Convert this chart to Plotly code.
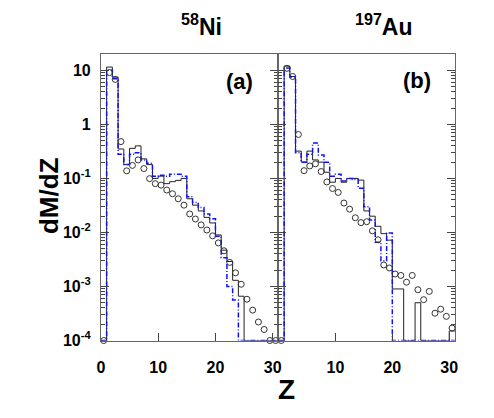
import plotly.graph_objects as go

# ---- data (bins [Z, Z+1], Z = 0..30) ----
bin_edges = list(range(0, 32))
circle_z = [z + 0.5 for z in range(0, 31)]

ni_black = [0, 11.5, 7.5, 0.35, 0.18, 0.36, 0.40, 0.23, 0.18, 0.10, 0.11, 0.08, 0.087, 0.092, 0.10,
            0.042, 0.032, 0.025, 0.019, 0.015, 0.009, 0.0047, 0.0029, 0.0013, 0.00066,
            0, 0, 0, 0, 0, 0]
ni_blue = [0, 10.0, 7.0, 0.28, 0.18, 0.28, 0.30, 0.22, 0.19, 0.11, 0.115, 0.11, 0.12, 0.12, 0.11,
           0.046, 0.036, 0.029, 0.022, 0.018, 0.0085, 0.0034, 0.0010, 0.00056,
           0, 0, 0, 0, 0, 0, 0]
ni_data = [0, 9.1, 6.8, 0.48, 0.138, 0.174, 0.22, 0.152, 0.099, 0.080, 0.075, 0.061, 0.052, 0.042,
           0.032, 0.022, 0.0177, 0.0138, 0.0111, 0.00865, 0.0064, 0.00458, 0.00279, 0.00179,
           0.0011, 0.00058, 0.000365, 0.00022, 0.00016, 0, 0]

au_black = [0, 12.0, 7.7, 0.32, 0.20, 0.32, 0.22, 0.20, 0.13, 0.085, 0.10, 0.085, 0.10, 0.10, 0.093,
            0.025, 0.020, 0.013, 0.0095, 0.0072, 0.0009, 0.0009, 0, 0, 0.0005,
            0, 0, 0, 0, 0, 0.00015]
au_blue = [0, 11.0, 7.5, 0.30, 0.20, 0.28, 0.45, 0.27, 0.20, 0.11, 0.12, 0.09, 0.10, 0.095, 0.066,
           0.030, 0.017, 0.0066, 0.0030, 0.0098, 0, 0, 0, 0, 0, 0, 0, 0, 0, 0, 0]
au_data = [0, 10.9, 7.7, 0.65, 0.139, 0.17, 0.186, 0.134, 0.086, 0.065, 0.055, 0.035, 0.027, 0.0187,
           0.0152, 0.0158, 0.0107, 0.0073, 0.0025, 0.0022, 0.0017, 0.0016, 0.0012, 0.0016,
           0.00087, 0.00057, 0.00081, 0.00032, 0.00038, 0.00028, 0.00017]

y_tickvals = [10, 1, 0.1, 0.01, 0.001, 0.0001]
y_ticktext = ["10", "1", "10<sup>-1</sup>", "10<sup>-2</sup>", "10<sup>-3</sup>", "10<sup>-4</sup>"]

FLOOR = 1e-4


def floored(vals):
    return [v if v > 0 else FLOOR for v in vals]


def step_y(vals):
    v = floored(vals)
    return v + [v[-1]]


W, H = 494, 418
xa = [98.3 / W, 278.4 / W]
xb = [278.4 / W, 457.4 / W]
yd = [1 - 348 / H, 1 - 55 / H]

fig = go.Figure()

for xr, yr, blk, blu, dat in [("x", "y", ni_black, ni_blue, ni_data),
                              ("x2", "y2", au_black, au_blue, au_data)]:
    fig.add_trace(go.Scatter(x=bin_edges, y=step_y(blk), mode="lines", line_shape="hv",
                             line=dict(color="#222222", width=1), xaxis=xr, yaxis=yr,
                             showlegend=False))
    fig.add_trace(go.Scatter(x=bin_edges, y=step_y(blu), mode="lines", line_shape="hv",
                             line=dict(color="#1010ff", width=1.5, dash="5px,2px,1px,2px"),
                             xaxis=xr, yaxis=yr, showlegend=False))
    fig.add_trace(go.Scatter(x=circle_z, y=floored(dat), mode="markers",
                             marker=dict(symbol="circle-open", size=6, color="#333333",
                                         line=dict(width=1, color="#333333")),
                             xaxis=xr, yaxis=yr, showlegend=False, cliponaxis=False))

tickfont = dict(family="Liberation Sans, Arial", size=16, color="black", weight="bold")
axis_common = dict(showgrid=False, zeroline=False, linecolor="#666666", linewidth=1,
                   ticks="inside", tickcolor="#444444")

fig.update_layout(
    width=W, height=H, margin=dict(l=0, r=0, t=0, b=0),
    plot_bgcolor="white", paper_bgcolor="white",
    xaxis=dict(domain=xa, range=[0, 31], tickvals=[0, 10, 20, 30], ticklen=8, mirror=True,
               tickfont=tickfont, anchor="y", ticklabelstandoff=12, **axis_common),
    xaxis2=dict(domain=xb, range=[0, 31], tickvals=[10, 20, 30], ticklen=8, mirror=True,
                tickfont=tickfont, anchor="y2", ticklabelstandoff=12, **axis_common),
    yaxis=dict(domain=yd, type="log", range=[-4, 1.306], tickvals=y_tickvals, ticktext=y_ticktext,
               ticklen=8, mirror="allticks", tickfont=tickfont, anchor="x",
               ticklabelstandoff=6,
               minor=dict(ticks="inside", ticklen=4, tickcolor="#444444", dtick="D1"),
               **axis_common),
    yaxis2=dict(domain=yd, type="log", range=[-4, 1.306], tickvals=y_tickvals,
                showticklabels=False, ticklen=8, mirror="allticks", anchor="x2", matches="y",
                minor=dict(ticks="inside", ticklen=4, tickcolor="#444444", dtick="D1"),
                **axis_common),
)

font_b = dict(family="Liberation Sans, Arial", color="black", weight="bold")
annos = [
    dict(x=200 / W, y=1 - 26 / H, text="<sup>58</sup>Ni", font=dict(size=23, **font_b)),
    dict(x=385 / W, y=1 - 26 / H, text="<sup>197</sup>Au", font=dict(size=23, **font_b)),
    dict(x=239 / W, y=1 - 83 / H, text="(a)", font=dict(size=22, **font_b)),
    dict(x=419 / W, y=1 - 82 / H, text="(b)", font=dict(size=22, **font_b)),
    dict(x=287 / W, y=1 - 398 / H, text="Z", font=dict(size=28, **font_b)),
    dict(x=45 / W, y=1 - 200 / H, text="dM/dZ", textangle=-90, font=dict(size=26, **font_b)),
]
for a in annos:
    fig.add_annotation(xref="paper", yref="paper", showarrow=False, xanchor="center",
                       yanchor="middle", **a)

fig.write_html("out.html")
